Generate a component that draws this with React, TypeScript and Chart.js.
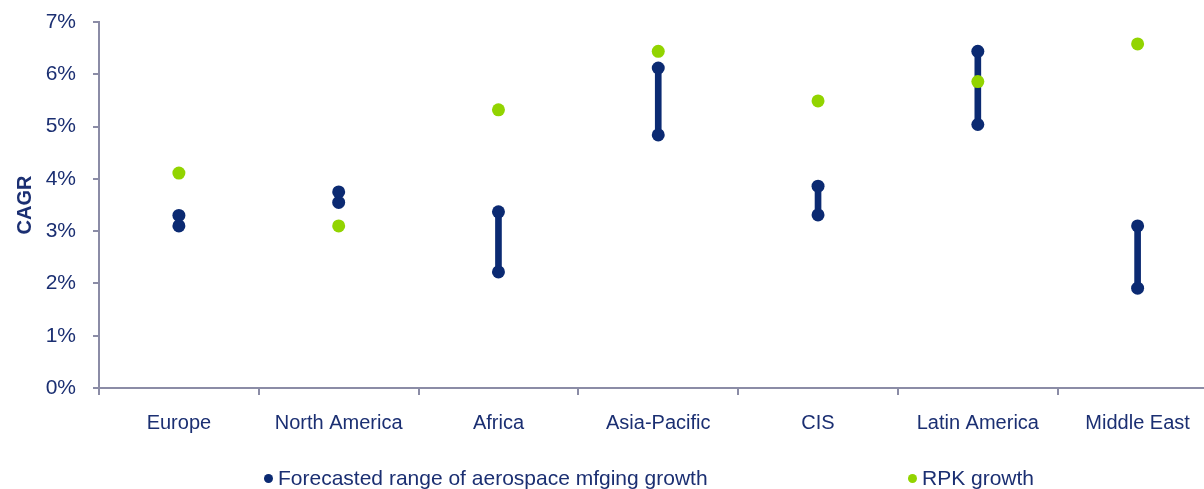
import React, { useEffect, useRef } from "react";
import { Chart, registerables } from "chart.js";

Chart.register(...registerables);

const categories = ["Europe", "North America", "Africa", "Asia-Pacific", "CIS", "Latin America", "Middle East"];
const rangeLow = [3.1, 3.55, 2.22, 4.84, 3.31, 5.04, 1.91];
const rangeHigh = [3.3, 3.75, 3.37, 6.12, 3.86, 6.44, 3.1];
const rpkGrowth = [4.11, 3.1, 5.32, 6.44, 5.49, 5.86, 6.58];
const yTicks = [0, 1, 2, 3, 4, 5, 6, 7];
const legendLabels = ["Forecasted range of aerospace mfging growth", "RPK growth"];

const NAVY = "#0b2a72";
const GREEN = "#92d400";
const TEXT = "#1b2f72";
const AXIS = "#8b8ca6";
const FONT = "'Liberation Sans', Arial, sans-serif";

export default function App() {
  const ref = useRef<HTMLCanvasElement>(null);

  useEffect(() => {
    document.body.style.overflow = "hidden";
    const ctx = ref.current!.getContext("2d")!;
    const chart = new Chart(ctx, {
      type: "bar",
      data: {
        labels: categories,
        datasets: [
          {
            type: "line",
            label: legendLabels[1],
            data: rpkGrowth,
            showLine: false,
            pointRadius: 6.5,
            pointBackgroundColor: GREEN,
            pointBorderWidth: 0,
            backgroundColor: GREEN,
            borderColor: GREEN,
            order: 0,
          } as any,
          {
            type: "line",
            label: "high",
            data: rangeHigh,
            showLine: false,
            pointRadius: 6.5,
            pointBackgroundColor: NAVY,
            pointBorderWidth: 0,
            backgroundColor: NAVY,
            borderColor: NAVY,
            order: 1,
          } as any,
          {
            type: "line",
            label: "low",
            data: rangeLow,
            showLine: false,
            pointRadius: 6.5,
            pointBackgroundColor: NAVY,
            pointBorderWidth: 0,
            backgroundColor: NAVY,
            borderColor: NAVY,
            order: 2,
          } as any,
          {
            type: "bar",
            label: legendLabels[0],
            data: rangeLow.map((l, i) => [l, rangeHigh[i]]),
            backgroundColor: NAVY,
            barThickness: 6,
            borderWidth: 0,
            order: 3,
          } as any,
        ],
      },
      options: {
        responsive: false,
        animation: false,
        layout: { padding: { top: 22, left: 9, right: 2, bottom: 38 } },
        plugins: { legend: { display: false }, tooltip: { enabled: false } },
        scales: {
          x: {
            offset: true,
            grid: { offset: true, drawOnChartArea: false, drawTicks: true, tickLength: 7, color: AXIS, lineWidth: 2 },
            border: { color: AXIS, width: 2 },
            ticks: { color: TEXT, font: { size: 20, family: FONT }, padding: 16, maxRotation: 0 },
          },
          y: {
            min: 0,
            max: 7,
            afterBuildTicks: (axis: any) => {
              axis.ticks = yTicks.map((v) => ({ value: v }));
            },
            afterFit: (axis: any) => {
              axis.width = 90;
              axis.paddingTop = 0;
              axis.paddingBottom = 0;
            },
            grid: { drawOnChartArea: false, drawTicks: true, tickLength: 6, color: AXIS, lineWidth: 2 },
            border: { color: AXIS, width: 2 },
            ticks: {
              color: TEXT,
              font: { size: 21, family: FONT },
              padding: 17,
              callback: (v: any) => `${v}%`,
            },
            title: {
              display: true,
              text: "CAGR",
              color: TEXT,
              font: { size: 20, weight: "bold", family: FONT },
              padding: { top: 4, bottom: 8 },
            },
          },
        },
      },
    });
    return () => chart.destroy();
  }, []);

  const legendItem = (label: string, color: string, left: number) => (
    <div
      style={{
        position: "absolute",
        left,
        top: 466,
        display: "flex",
        alignItems: "center",
        fontFamily: FONT,
        fontSize: 21,
        color: TEXT,
        whiteSpace: "nowrap",
        lineHeight: "24px",
      }}
    >
      <span
        style={{
          display: "inline-block",
          width: 9,
          height: 9,
          borderRadius: "50%",
          background: color,
          marginRight: 5,
        }}
      />
      {label}
    </div>
  );

  return (
    <div style={{ position: "fixed", left: 0, top: 0, width: 1204, height: 489, overflow: "hidden", background: "#fff" }}>
      <canvas ref={ref} width={1224} height={489} style={{ position: "absolute", left: 0, top: 0 }} />
      {legendItem(legendLabels[0], NAVY, 264)}
      {legendItem(legendLabels[1], GREEN, 908)}
    </div>
  );
}
